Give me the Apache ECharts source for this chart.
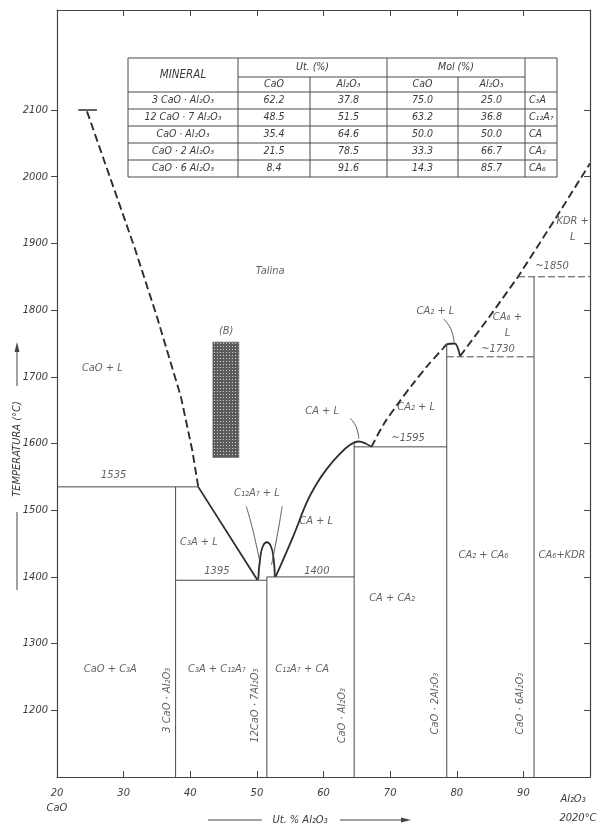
<!DOCTYPE html>
<html>
<head>
<meta charset="utf-8">
<script src="https://cdn.jsdelivr.net/npm/echarts@6/dist/echarts.min.js"></script>
<style>
  html, body { margin: 0; padding: 0; background: #fff; }
  #chart { width: 606px; height: 825px; }
</style>
</head>
<body>
<div id="chart"></div>
<script>
// x: Ut. % Al2O3, y: temperature in °C
const xTicks = [20, 30, 40, 50, 60, 70, 80, 90];
const yTicks = [1200, 1300, 1400, 1500, 1600, 1700, 1800, 1900, 2000, 2100];

// liquidus curves
const caoMelt = [[23.2, 2100], [26.0, 2100]];
const caoLiquidus = [[24.5, 2098], [31.7, 1892], [35.0, 1790], [38.6, 1670], [40.3, 1590], [41.2, 1535]];
const c3aLiquidus = [[41.2, 1535], [50.1, 1395]];
const c12a7Dome = [[50.2, 1396], [50.5, 1428], [50.9, 1446], [51.5, 1452], [52.1, 1446], [52.5, 1428], [52.7, 1400]];
const caLiquidus = [[52.8, 1400], [55.5, 1462], [57.5, 1512], [59.0, 1540], [60.5, 1562], [62.3, 1583], [64.0, 1598], [65.3, 1603], [66.3, 1600], [67.2, 1595]];
const ca2Liquidus = [[67.2, 1595], [69.1, 1630], [71.2, 1660], [73.3, 1688], [75.9, 1720], [77.9, 1742]];
const ca2Top = [[77.9, 1742], [78.6, 1749], [79.7, 1750], [80.5, 1731]];
const ca6Liquidus = [[80.5, 1731], [84.9, 1790], [89.2, 1850], [94.8, 1937], [100, 2020]];

// isotherms
const isoSolid = [
  [[20, 1535], [41.2, 1535]],
  [[37.8, 1395], [51.5, 1395]],
  [[51.5, 1400], [64.6, 1400]],
  [[64.6, 1595], [78.5, 1595]]
];
const isoDashed = [
  [[78.5, 1730], [91.6, 1730]],
  [[89.2, 1850], [100, 1850]]
];

// compounds (table)
const minerals = ['3 CaO · Al₂O₃', '12 CaO · 7 Al₂O₃', 'CaO · Al₂O₃', 'CaO · 2 Al₂O₃', 'CaO · 6 Al₂O₃'];
const wtCaO = [62.2, 48.5, 35.4, 21.5, 8.4];
const wtAl = [37.8, 51.5, 64.6, 78.5, 91.6];
const molCaO = [75.0, 63.2, 50.0, 33.3, 14.3];
const molAl = [25.0, 36.8, 50.0, 66.7, 85.7];
const abbrev = ['C₃A', 'C₁₂A₇', 'CA', 'CA₂', 'CA₆'];
const compoundTop = [1535, 1400, 1602, 1750, 1850];

// rotated compound names along the vertical lines
const compoundNames = ['3 CaO · Al₂O₃', '12CaO · 7Al₂O₃', 'CaO · Al₂O₃', 'CaO · 2Al₂O₃', 'CaO · 6Al₂O₃'];
const compoundLabelX = [36.6, 49.7, 62.8, 76.8, 89.5];
const compoundLabelT = [1215, 1207, 1192, 1210, 1210];

// leader lines
const leaders = [
  [[48.4, 1506], [49.4, 1470], [50.5, 1420]],
  [[53.8, 1506], [53.2, 1470], [52.2, 1418]],
  [[64.0, 1638], [64.9, 1625], [65.3, 1607]],
  [[78.0, 1787], [79.1, 1772], [79.6, 1752]]
];

// area (B)
const areaB = [[43.4, 1752, 47.3, 1579]];

// text in the fields
const regionLabels = [
  ['Talina', 52.0, 1859],
  ['(B)', 45.4, 1768],
  ['CaO + L', 26.8, 1713],
  ['1535', 28.5, 1552],
  ['C₃A + L', 41.3, 1452],
  ['C₁₂A₇ + L', 50.0, 1526],
  ['CA + L', 58.9, 1483],
  ['CA + L', 59.8, 1648],
  ['1395', 44.0, 1408],
  ['1400', 59.0, 1409],
  ['~1595', 72.7, 1608],
  ['CA₂ + L', 73.9, 1654],
  ['CA₂ + L', 76.8, 1798],
  ['CA₆ +\nL', 87.6, 1777],
  ['~1730', 86.2, 1742],
  ['~1850', 94.3, 1866],
  ['KDR +\nL', 97.4, 1922],
  ['CaO + C₃A', 28.0, 1262],
  ['C₃A + C₁₂A₇', 44.0, 1262],
  ['C₁₂A₇ + CA', 56.8, 1262],
  ['CA + CA₂', 70.3, 1368],
  ['CA₂ + CA₆', 84.0, 1433],
  ['CA₆+KDR', 95.8, 1433]
];

const FONT = "'DejaVu Sans Condensed', 'Liberation Sans Narrow', 'DejaVu Sans', sans-serif";
const INK = '#3a3a3a';
const LINE = '#4a4a4a';

// hatch pattern for (B)
function makeHatch() {
  const c = document.createElement('canvas');
  c.width = 3; c.height = 3;
  const g = c.getContext('2d');
  g.fillStyle = '#5c5c5c';
  g.fillRect(0, 0, 3, 3);
  g.fillStyle = '#d0d0d0';
  g.fillRect(1, 1, 1, 1);
  return c;
}

function lineSeries(data, opts) {
  return Object.assign({
    type: 'line',
    data: data,
    symbol: 'none',
    silent: true,
    xAxisIndex: 0,
    yAxisIndex: 0,
    lineStyle: { color: '#2e2e2e', width: 1.8, type: 'solid' },
    z: 3
  }, opts || {});
}

const series = [];
series.push(lineSeries(caoMelt, { lineStyle: { color: '#2e2e2e', width: 1.4 } }));
series.push(lineSeries(caoLiquidus, { lineStyle: { color: '#2e2e2e', width: 1.9, type: [8, 4] } }));
series.push(lineSeries(c3aLiquidus));
series.push(lineSeries(c12a7Dome, { smooth: 0.5 }));
series.push(lineSeries(caLiquidus, { smooth: 0.4 }));
series.push(lineSeries(ca2Liquidus, { smooth: 0.3, lineStyle: { color: '#2e2e2e', width: 1.9, type: [8, 4] } }));
series.push(lineSeries(ca2Top, { smooth: 0.3 }));
series.push(lineSeries(ca6Liquidus, { lineStyle: { color: '#2e2e2e', width: 1.9, type: [8, 4] } }));

isoSolid.forEach(seg => series.push(lineSeries(seg, { lineStyle: { color: LINE, width: 1 } })));
isoDashed.forEach(seg => series.push(lineSeries(seg, { lineStyle: { color: LINE, width: 1, type: [7, 3] } })));

wtAl.forEach((x, i) => series.push(lineSeries([[x, 1100], [x, compoundTop[i]]], { lineStyle: { color: LINE, width: 1 } })));

leaders.forEach(seg => series.push(lineSeries(seg, { smooth: 0.5, lineStyle: { color: LINE, width: 0.9 } })));

series.push({
  type: 'custom',
  silent: true,
  data: areaB,
  renderItem: function (params, api) {
    const p0 = api.coord([api.value(0), api.value(1)]);
    const p1 = api.coord([api.value(2), api.value(3)]);
    return {
      type: 'rect',
      shape: { x: p0[0], y: p0[1], width: p1[0] - p0[0], height: p1[1] - p0[1] },
      style: { fill: { image: makeHatch(), repeat: 'repeat' }, stroke: '#555', lineWidth: 0.6 }
    };
  },
  z: 2
});

series.push({
  type: 'scatter',
  silent: true,
  symbolSize: 0,
  data: regionLabels.map(r => [r[1], r[2], r[0]]),
  label: {
    show: true,
    position: 'inside',
    formatter: p => p.data[2],
    color: INK,
    fontSize: 11,
    fontStyle: 'italic',
    fontFamily: FONT,
    lineHeight: 16,
    align: 'center'
  },
  z: 5
});

series.push({
  type: 'scatter',
  silent: true,
  symbolSize: 0,
  data: compoundNames.map((n, i) => [compoundLabelX[i], compoundLabelT[i], n]),
  label: {
    show: true,
    position: 'inside',
    rotate: 90,
    formatter: p => p.data[2],
    color: INK,
    fontSize: 11,
    fontStyle: 'italic',
    fontFamily: FONT
  },
  z: 5
});

// table drawn as graphic
const colX = [128, 238, 310, 387, 458, 525, 557];
const tTop = 58, tMid = 77, tHead = 92, rowH = 17;
const tBottom = tHead + rowH * minerals.length;
const tStroke = { stroke: '#4a4a4a', lineWidth: 1 };
const tFont = { fill: INK, fontSize: 10.5, fontStyle: 'italic', fontFamily: FONT, align: 'center', verticalAlign: 'middle' };

function gLine(x1, y1, x2, y2) {
  return { type: 'line', shape: { x1: x1, y1: y1, x2: x2, y2: y2 }, style: tStroke, silent: true };
}
function gText(t, x, y, extra) {
  return { type: 'text', x: x, y: y, style: Object.assign({ text: t }, tFont, extra || {}), silent: true };
}

const graphic = [];
graphic.push({ type: 'rect', shape: { x: colX[0], y: tTop, width: colX[6] - colX[0], height: tBottom - tTop }, style: { fill: '#fff', stroke: '#4a4a4a', lineWidth: 1 }, silent: true, z: 10 });
const tableEls = [];
for (let i = 0; i < minerals.length; i++) {
  tableEls.push(gLine(colX[0], tHead + rowH * i, colX[6], tHead + rowH * i));
}
tableEls.push(gLine(colX[1], tMid, colX[5], tMid));
[1, 3, 5].forEach(c => tableEls.push(gLine(colX[c], tTop, colX[c], tBottom)));
[2, 4].forEach(c => tableEls.push(gLine(colX[c], tMid, colX[c], tBottom)));
tableEls.push(gText('MINERAL', (colX[0] + colX[1]) / 2, (tTop + tHead) / 2, { fontSize: 11.5 }));
tableEls.push(gText('Ut. (%)', (colX[1] + colX[3]) / 2, (tTop + tMid) / 2));
tableEls.push(gText('Mol (%)', (colX[3] + colX[5]) / 2, (tTop + tMid) / 2));
['CaO', 'Al₂O₃', 'CaO', 'Al₂O₃'].forEach((t, c) => tableEls.push(gText(t, (colX[c + 1] + colX[c + 2]) / 2, (tMid + tHead) / 2)));
minerals.forEach((m, i) => {
  const y = tHead + rowH * i + rowH / 2;
  const cells = [m, wtCaO[i].toFixed(1), wtAl[i].toFixed(1), molCaO[i].toFixed(1), molAl[i].toFixed(1)];
  cells.forEach((t, c) => tableEls.push(gText(t, (colX[c] + colX[c + 1]) / 2, y)));
  tableEls.push(gText(abbrev[i], colX[5] + 4, y, { align: 'left' }));
});
tableEls.forEach(e => { e.z = 11; graphic.push(e); });

// axis titles
const titleFont = { fill: INK, fontSize: 11, fontStyle: 'italic', fontFamily: FONT, align: 'center', verticalAlign: 'middle' };
graphic.push({ type: 'text', x: 17, y: 449, rotation: Math.PI / 2, style: Object.assign({ text: 'TEMPERATURA (°C)' }, titleFont), silent: true });
graphic.push({ type: 'line', shape: { x1: 17, y1: 512, x2: 17, y2: 590 }, style: { stroke: '#444', lineWidth: 1 }, silent: true });
graphic.push({ type: 'line', shape: { x1: 17, y1: 386, x2: 17, y2: 350 }, style: { stroke: '#444', lineWidth: 1 }, silent: true });
graphic.push({ type: 'polygon', shape: { points: [[17, 342], [14.5, 352], [19.5, 352]] }, style: { fill: '#444' }, silent: true });

graphic.push({ type: 'text', x: 300, y: 820, style: Object.assign({ text: 'Ut. % Al₂O₃' }, titleFont), silent: true });
graphic.push({ type: 'line', shape: { x1: 208, y1: 820, x2: 262, y2: 820 }, style: { stroke: '#444', lineWidth: 1 }, silent: true });
graphic.push({ type: 'line', shape: { x1: 340, y1: 820, x2: 402, y2: 820 }, style: { stroke: '#444', lineWidth: 1 }, silent: true });
graphic.push({ type: 'polygon', shape: { points: [[411, 820], [401, 817.5], [401, 822.5]] }, style: { fill: '#444' }, silent: true });

graphic.push({ type: 'text', x: 573, y: 799, style: Object.assign({ text: 'Al₂O₃' }, titleFont), silent: true });
graphic.push({ type: 'text', x: 578, y: 818, style: Object.assign({ text: '2020°C' }, titleFont), silent: true });

const axisText = { color: INK, fontSize: 11, fontStyle: 'italic', fontFamily: FONT };

const chart = echarts.init(document.getElementById('chart'));
chart.setOption({
  animation: false,
  backgroundColor: '#fff',
  grid: { left: 57, right: 16, top: 10, bottom: 48 },
  xAxis: [
    {
      type: 'value', min: 20, max: 100, interval: 10, position: 'bottom',
      splitLine: { show: false },
      axisLine: { lineStyle: { color: '#444', width: 1.2 } },
      axisTick: { inside: true, length: 6, lineStyle: { color: '#444' }, customValues: xTicks.slice(1) },
      axisLabel: Object.assign({
        margin: 9, lineHeight: 15, customValues: xTicks,
        formatter: v => v === 20 ? '20\nCaO' : String(v)
      }, axisText)
    },
    {
      type: 'value', min: 20, max: 100, interval: 10, position: 'top',
      splitLine: { show: false },
      axisLine: { lineStyle: { color: '#444', width: 1.2 } },
      axisTick: { inside: true, length: 6, lineStyle: { color: '#444' }, customValues: xTicks.slice(1) },
      axisLabel: { show: false }
    }
  ],
  yAxis: [
    {
      type: 'value', min: 1100, max: 2250, interval: 100, position: 'left',
      splitLine: { show: false },
      axisLine: { lineStyle: { color: '#444', width: 1.2 } },
      axisTick: { inside: false, length: 6, lineStyle: { color: '#444' }, customValues: yTicks },
      axisLabel: Object.assign({ margin: 9, customValues: yTicks, formatter: v => String(v) }, axisText)
    },
    {
      type: 'value', min: 1100, max: 2250, interval: 100, position: 'right',
      splitLine: { show: false },
      axisLine: { lineStyle: { color: '#444', width: 1.2 } },
      axisTick: { inside: true, length: 6, lineStyle: { color: '#444' }, customValues: yTicks },
      axisLabel: { show: false }
    }
  ],
  graphic: graphic,
  series: series
});
</script>
</body>
</html>
